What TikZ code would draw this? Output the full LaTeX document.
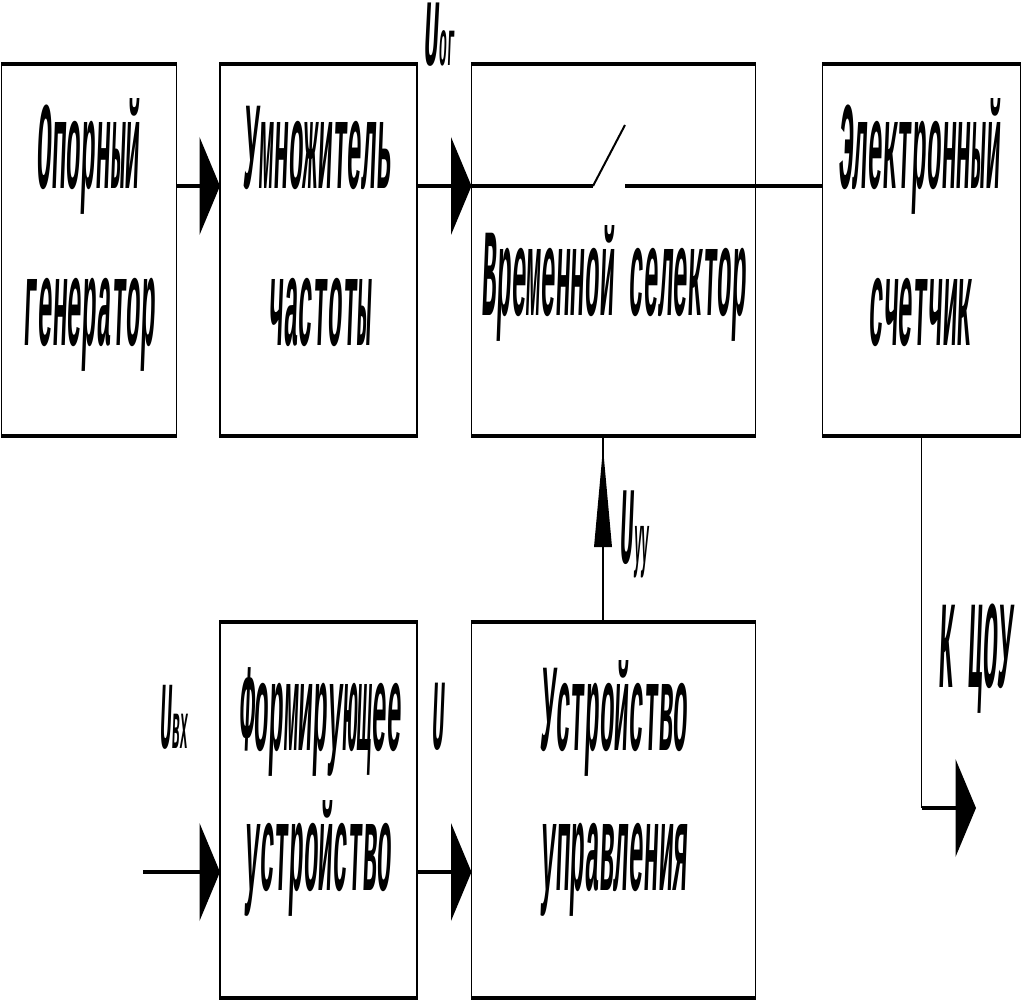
\documentclass[tikz,border=0pt]{standalone}
\usepackage{fontspec}
\usetikzlibrary{calc}
\newfontfamily\monofnt{Liberation Mono}
\newcommand\ysc{5.1}
\newcommand\TT[1]{\scalebox{1}[\ysc]{\monofnt\bfseries\itshape\fontsize{24.5pt}{24.5pt}\selectfont #1}}
% label: big letter then small letters, same baseline
\newcommand\LAB[5]{\scalebox{1}[#5]{\monofnt\bfseries\itshape\fontsize{#3pt}{#3pt}\selectfont #1}\scalebox{1}[#4]{\monofnt\bfseries\itshape\fontsize{13pt}{13pt}\selectfont #2}}
\tikzset{
  blk/.style={draw=none, inner sep=0pt, outer sep=0pt},
  txt/.style={inner sep=0pt, anchor=base},
  thickedge/.style={line width=4pt, line cap=butt},
  thinedge/.style={line width=1.2pt},
  shaft/.style={line width=4pt},
  thinshaft/.style={line width=1.2pt},
}
\newcommand\boxedges[1]{%
  \draw[thickedge] ([xshift=-0.6pt]#1.north west) -- ([xshift=0.6pt]#1.north east);
  \draw[thickedge] ([xshift=-0.6pt]#1.south west) -- ([xshift=0.6pt]#1.south east);
  \draw[thinedge] (#1.north west) -- (#1.south west);
  \draw[thinedge] (#1.north east) -- (#1.south east);}
\newcommand\rarrow[2]{% from #1 to tip #2, rightward
  \draw[shaft] (#1) -- ($(#2)+(-20,0)$);
  \fill ($(#2)+(-20.5,-49)$) -- (#2) -- ($(#2)+(-20.5,49)$) -- cycle;}
\begin{document}
\begin{tikzpicture}[x=1pt,y=-1pt]
\useasboundingbox (0,0) rectangle (1021,1000);
% boxes
\node[blk, minimum width=175pt, minimum height=372pt] (b1) at (89,250) {};
\node[blk, minimum width=197pt, minimum height=372pt] (b2) at (318.5,250) {};
\node[blk, minimum width=284pt, minimum height=372pt] (b3) at (613.5,250) {};
\node[blk, minimum width=198pt, minimum height=372pt] (b4) at (921.5,250) {};
\node[blk, minimum width=197pt, minimum height=376pt] (b5) at (318.5,810) {};
\node[blk, minimum width=284pt, minimum height=376pt] (b6) at (613.5,810) {};
\foreach \b in {b1,b2,b3,b4,b5,b6}{\boxedges{\b}}
% texts
\node[txt] (t1a) at (89,189) {\TT{Опорный}};
\node[txt] (t1b) at (90,346) {\TT{генератор}};
\node[txt] (t2a) at (318.5,189) {\TT{Умножитель}};
\node[txt] (t2b) at (321,346) {\TT{частоты}};
\node[txt] (t3) at (615,316) {\TT{Временной селектор}};
\node[txt] (t4a) at (920,189) {\TT{Электронный}};
\node[txt] (t4b) at (921,346) {\TT{счетчик}};
\node[txt] (t5a) at (321,750) {\TT{Формирующее}};
\node[txt] (t5b) at (319,890) {\TT{устройство}};
\node[txt] (t6a) at (615,750) {\TT{Устройство}};
\node[txt] (t6b) at (615,890) {\TT{управления}};
\node[txt, anchor=base west] (tcou) at (939,687) {\TT{К ЦОУ}};
% signal labels
\node[txt, anchor=base west] (uog) at (424,66) {\LAB{U}{ог}{25}{5.0}{3.8}};
\node[txt, anchor=base west] (uuu) at (620,563) {\LAB{U}{уу}{23}{5.4}{4.8}};
\node[txt, anchor=base west] (uvx) at (160,748) {\LAB{U}{вх}{20}{5.0}{4.8}};
\node[txt, anchor=base west] (uu) at (432,749) {\scalebox{1}[4.8]{\monofnt\bfseries\itshape\fontsize{21pt}{21pt}\selectfont U}};
% coordinates
\coordinate (r1) at (0,186);
\coordinate (r2) at (0,872);
\coordinate (inx) at (143,872);
\coordinate (swa) at (593,186);
\coordinate (swb) at (625,125);
\coordinate (swc) at (625,186);
\coordinate (upx) at (603,0);
\coordinate (outc) at (921.5,808);
\coordinate (outt) at (976,808);
% top arrows
\rarrow{b1.east |- r1}{b2.west |- r1}
\rarrow{b2.east |- r1}{b3.west |- r1}
% switch
\draw[shaft] (b3.west |- r1) -- (swa);
\draw[line width=2pt] (swa) -- (swb);
\draw[shaft] (swc) -- (b4.west |- r1);
% bottom arrows
\rarrow{inx}{b5.west |- r2}
\rarrow{b5.east |- r2}{b6.west |- r2}
% control up arrow
\draw[thinshaft] (b6.north -| upx) -- (b3.south -| upx);
\fill ($(b3.south -| upx)+(-9,111)$) -- ($(b3.south -| upx)+(0,12)$) -- ($(b3.south -| upx)+(9,111)$) -- cycle;
% output
\draw[thinshaft] (b4.south) -- (outc);
\rarrow{outc}{outt}
\end{tikzpicture}
\end{document}
